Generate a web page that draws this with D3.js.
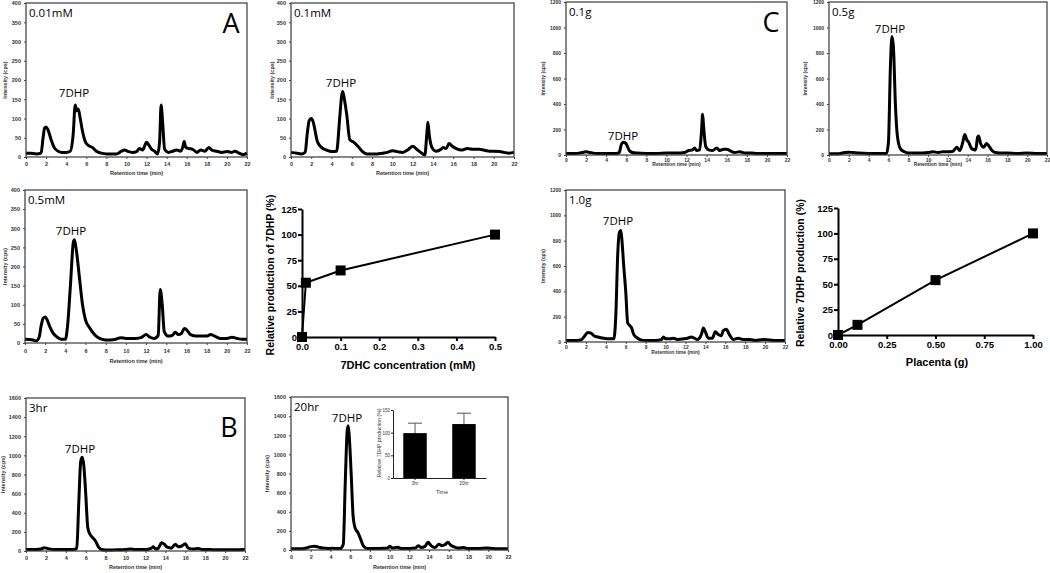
<!DOCTYPE html>
<html><head><meta charset="utf-8">
<script src="https://cdn.jsdelivr.net/npm/d3@7"></script>
<style>body{margin:0;background:#fff}svg{display:block}</style>
</head><body><svg id="c" width="1050" height="573"></svg>
<script>
// ---------- DATA ----------
const retentionTicks = [0,2,4,6,8,10,12,14,16,18,20,22];
const intensityTicksA = [0,50,100,150,200,250,300,350,400];
const intensityTicksB = [0,200,400,600,800,1000,1200,1400,1600];
const intensityTicksC = [0,200,400,600,800,1000,1200];

const trace001mM = [[0,10],[0.5,10],[1,8],[1.5,10],[1.7,50],[1.85,75],[2.0,78],[2.2,70],[2.5,45],[2.8,25],[3.2,15],[3.6,12],[4.0,12],[4.4,15],[4.7,60],[4.9,135],[5.05,120],[5.2,125],[5.4,100],[5.6,70],[5.9,40],[6.2,30],[6.6,25],[7.0,15],[7.5,10],[8,8],[9,8],[9.5,15],[9.8,18],[10.2,14],[10.6,12],[11,14],[11.3,22],[11.6,18],[12.0,38],[12.2,32],[12.5,20],[12.8,15],[13.1,8],[13.3,40],[13.45,135],[13.6,90],[13.8,20],[14.2,12],[14.6,15],[15,18],[15.4,15],[15.6,25],[15.75,40],[15.9,25],[16.2,22],[16.6,20],[17,12],[17.4,18],[17.8,15],[18.2,25],[18.5,18],[19,15],[19.5,12],[20,14],[20.5,12],[20.8,15],[21.2,10],[21.6,6],[22,10]];
const trace01mM = [[0,12],[0.6,10],[1,8],[1.4,12],[1.6,60],[1.8,95],[2.0,100],[2.2,90],[2.4,65],[2.6,40],[3,25],[3.5,18],[4,14],[4.5,15],[4.8,100],[5.0,160],[5.1,170],[5.3,145],[5.5,110],[5.8,45],[6.2,38],[6.6,28],[7,15],[7.5,8],[8,8],[8.5,8],[9,10],[9.5,12],[10,16],[10.5,14],[11,12],[11.5,18],[12,28],[12.4,20],[12.8,12],[13.2,5],[13.4,60],[13.5,90],[13.65,55],[13.9,25],[14.3,15],[14.8,20],[15.0,25],[15.3,22],[15.6,35],[15.9,28],[16.3,22],[16.8,18],[17.4,22],[18,20],[18.6,20],[19,18],[19.6,15],[20,15],[20.6,14],[21,12],[21.5,10],[22,12]];
const trace05mM = [[0,10],[0.8,8],[1.1,5],[1.4,15],[1.6,45],[1.8,65],[2.0,68],[2.2,60],[2.5,40],[2.8,25],[3.2,15],[3.6,10],[4.0,10],[4.2,40],[4.5,150],[4.8,265],[4.9,270],[5.1,240],[5.4,170],[5.7,100],[6.0,60],[6.4,40],[6.8,25],[7.2,15],[7.6,10],[8,8],[8.5,8],[9,10],[9.5,14],[10,12],[10.5,12],[11,12],[11.5,14],[12,22],[12.4,15],[12.8,12],[13.2,20],[13.4,140],[13.6,100],[13.8,30],[14.2,18],[14.6,20],[14.9,28],[15.2,22],[15.5,25],[15.8,38],[16.0,35],[16.4,22],[17,18],[17.5,18],[18,18],[18.4,22],[18.8,18],[19.4,12],[20,12],[20.5,15],[21,12],[21.5,10],[22,10]];
const trace3hr = [[0,15],[1,15],[1.5,20],[1.8,35],[2.2,25],[3,15],[4,15],[4.8,15],[5.1,30],[5.3,500],[5.5,940],[5.65,980],[5.8,900],[6.0,600],[6.2,250],[6.4,180],[6.7,140],[7.0,100],[7.3,40],[7.6,15],[8,10],[9,12],[10,15],[10.5,20],[11,15],[12,15],[12.6,30],[12.8,45],[13.0,20],[13.3,30],[13.6,85],[13.9,70],[14.2,40],[14.6,30],[15.0,70],[15.3,45],[15.6,50],[16.0,75],[16.3,30],[16.8,20],[17.3,25],[17.8,15],[18.5,15],[19,12],[20,12],[21,12],[22,15]];
const trace20hr = [[0,12],[1,12],[1.5,20],[2.0,35],[2.4,40],[2.8,30],[3.2,20],[3.8,15],[4.2,18],[4.6,15],[5.0,15],[5.3,60],[5.5,700],[5.7,1250],[5.8,1300],[5.9,1200],[6.1,800],[6.3,350],[6.5,230],[6.8,180],[7.0,130],[7.3,50],[7.6,20],[8,15],[9,15],[9.8,20],[10.0,40],[10.3,20],[10.8,30],[11.2,15],[12,15],[12.6,20],[12.9,45],[13.2,25],[13.6,40],[13.9,80],[14.2,45],[14.6,25],[15.0,60],[15.3,45],[15.6,55],[15.9,80],[16.2,50],[16.6,30],[17,20],[17.5,25],[18,15],[19,15],[19.8,20],[20.5,15],[21,12],[22,12]];
const trace01g = [[0,12],[1,12],[1.6,20],[2.0,25],[2.4,20],[3,12],[4,12],[5,12],[5.3,20],[5.5,80],[5.7,100],[5.9,95],[6.1,70],[6.3,35],[6.6,20],[7,15],[8,12],[9,12],[10,15],[11,15],[11.8,20],[12.2,35],[12.6,40],[12.8,55],[13.0,35],[13.3,40],[13.5,200],[13.6,320],[13.7,220],[13.9,70],[14.2,40],[14.6,35],[15.0,55],[15.3,35],[15.7,45],[16.0,45],[16.4,30],[16.8,20],[17.3,25],[17.8,15],[18.5,15],[19,12],[20,12],[21,12],[22,12]];
const trace05g = [[0,10],[1,10],[1.6,20],[2.0,22],[2.4,20],[3,15],[4,12],[5,12],[5.8,12],[6.0,100],[6.2,700],[6.35,930],[6.5,850],[6.7,400],[6.9,150],[7.2,50],[7.6,25],[8,15],[9,15],[10,20],[10.5,25],[11,20],[11.5,25],[12,25],[12.5,30],[12.9,60],[13.2,35],[13.5,100],[13.7,160],[13.9,120],[14.1,100],[14.4,50],[14.8,40],[15.0,140],[15.1,150],[15.3,90],[15.6,60],[15.9,90],[16.1,75],[16.4,40],[16.8,20],[17.5,15],[18,15],[19,12],[20,15],[21,12],[22,12]];
const trace10g = [[0,12],[1,12],[1.5,15],[1.8,40],[2.2,75],[2.5,70],[2.8,50],[3.2,40],[3.8,30],[4.4,25],[4.8,25],[5.0,200],[5.2,700],[5.35,860],[5.5,880],[5.6,820],[5.8,600],[6.0,400],[6.2,150],[6.4,130],[6.6,110],[6.8,60],[7.2,30],[7.6,15],[8,12],[9,12],[9.6,20],[9.8,40],[10.0,25],[10.5,25],[10.8,30],[11.2,20],[11.8,25],[12.2,30],[12.6,40],[12.9,30],[13.2,20],[13.6,60],[13.8,110],[14.0,80],[14.3,30],[14.7,30],[15.0,80],[15.3,60],[15.6,50],[15.8,90],[16.1,100],[16.4,60],[16.8,20],[17.3,30],[17.8,20],[18.5,20],[19,12],[19.8,20],[20.5,15],[21,12],[22,12]];

const concentration = [0, 0.01, 0.1, 0.5];
const relProdConc = [0, 53, 65, 100];
const concTicks = [0, 0.1, 0.2, 0.3, 0.4, 0.5];
const relTicks = [0, 25, 50, 75, 100, 125];
const placenta = [0, 0.1, 0.5, 1.0];
const relProdPlacenta = [0, 10, 54, 100];
const placentaTicks = [0, 0.25, 0.5, 0.75, 1.0];
const timeGroups = ["3hr", "20hr"];
const timeMeans = [99, 119];
const timeErrors = [22, 24];
const insetTicks = [0, 50, 100, 150];

// ---------- DRAW ----------
const svg = d3.select('#c');
svg.append('rect').attr('width',1050).attr('height',573).attr('fill','#fff');
const TICKFONT = '"Liberation Sans", Arial, sans-serif';
const LABFONT = '"Open Sans", "Noto Sans", sans-serif';

function chrom(p){
  const x = d3.scaleLinear().domain([0,22]).range([p.l,p.r]);
  const y = d3.scaleLinear().domain([0,p.ymax]).range([p.b,p.t]);
  const g = svg.append('g');
  const line = d3.line().x(d=>x(d[0])).y(d=>y(d[1])).curve(d3.curveMonotoneX);
  g.append('path').datum(p.data).attr('d',line).attr('fill','none')
    .attr('stroke','#000').attr('stroke-width',3).attr('stroke-linejoin','round');
  g.append('rect').attr('x',p.l).attr('y',p.t).attr('width',p.r-p.l).attr('height',p.b-p.t)
    .attr('fill','none').attr('stroke','#3a3a3a').attr('stroke-width',1.2);
  const ax = g.append('g').attr('transform',`translate(0,${p.b})`)
    .call(d3.axisBottom(x).tickValues(retentionTicks).tickFormat(d3.format('d')).tickSize(2).tickPadding(p.tp).tickSizeOuter(0));
  const ay = g.append('g').attr('transform',`translate(${p.l},0)`)
    .call(d3.axisLeft(y).tickValues(p.yticks).tickFormat(d3.format('d')).tickSize(2).tickPadding(p.yp||3).tickSizeOuter(0));
  [ax,ay].forEach(a=>{
    a.select('.domain').remove();
    a.selectAll('line').attr('stroke','#444');
    a.selectAll('text').attr('font-family',TICKFONT).attr('font-size',p.fs).attr('font-weight','bold').attr('fill','#333');
  });
  g.append('text').attr('x',(p.l+p.r)/2).attr('y',p.b+p.tg).attr('text-anchor','middle')
    .attr('font-family',TICKFONT).attr('font-size',p.fs).attr('font-weight','bold').attr('fill','#333')
    .text('Retention time (min)');
  g.append('text').attr('transform',`translate(${p.yl},${(p.t+p.b)/2}) rotate(-90)`).attr('text-anchor','middle')
    .attr('dy','0.35em')
    .attr('font-family',TICKFONT).attr('font-size',p.fs).attr('font-weight','bold').attr('fill','#333')
    .text('Intensity (cps)');
  g.append('text').attr('x',p.l+3).attr('y',p.t+14).attr('font-family',LABFONT).attr('font-size',11.5)
    .attr('fill','#000').text(p.label);
  g.append('text').attr('x',p.pk[0]).attr('y',p.pk[1]).attr('text-anchor','middle').attr('font-family',LABFONT)
    .attr('font-size',11.5).attr('fill','#000').text('7DHP');
  if(p.big){
    g.append('text').attr('x',p.big[0]).attr('y',p.big[1]).attr('text-anchor','middle').attr('font-family',LABFONT)
      .attr('font-size',27).attr('fill','#000').text(p.big[2]);
  }
}

chrom({l:26,r:247,t:3,b:157,ymax:400,yticks:intensityTicksA,data:trace001mM,label:'0.01mM',pk:[74,97],big:[231,33,'A'],tp:3,tg:18,fs:5.5,yl:5});
chrom({l:291,r:514,t:3,b:157,ymax:400,yticks:intensityTicksA,data:trace01mM,label:'0.1mM',pk:[341,87],tp:3,tg:18,fs:5.5,yl:272});
chrom({l:25,r:247,t:190,b:343,ymax:400,yticks:intensityTicksA,data:trace05mM,label:'0.5mM',pk:[71,235],tp:4,tg:20,fs:5.5,yl:5});
chrom({l:26,r:245,t:398,b:551,ymax:1600,yticks:intensityTicksB,data:trace3hr,label:'3hr',pk:[80,453],big:[229,437,'B'],tp:3,tg:18,fs:5.5,yl:3});
chrom({l:291,r:508,t:397,b:550,ymax:1600,yticks:intensityTicksB,data:trace20hr,label:'20hr',pk:[347,422],tp:3,tg:19,fs:5.5,yl:267});
chrom({l:566,r:787,t:2,b:155,ymax:1200,yticks:intensityTicksC,data:trace01g,label:'0.1g',pk:[623,140],big:[771,32,'C'],tp:1,tg:11,fs:5,yl:543});
chrom({l:829,r:1047,t:2,b:155,ymax:1200,yticks:intensityTicksC,data:trace05g,label:'0.5g',pk:[890,33],tp:1,tg:11,fs:5,yl:805});
chrom({l:566,r:785,t:190,b:342,ymax:1200,yticks:intensityTicksC,data:trace10g,label:'1.0g',pk:[618,225],tp:1,tg:12,fs:5,yl:543});

// ---------- XY line charts ----------
function xy(p){
  const x = d3.scaleLinear().domain(p.xd).range([p.l,p.r]);
  const y = d3.scaleLinear().domain([0,125]).range([p.b,p.t]);
  const g = svg.append('g');
  const pts = p.xs.map((v,i)=>[v,p.ys[i]]);
  g.append('path').datum(pts).attr('d',d3.line().x(d=>x(d[0])).y(d=>y(d[1])))
    .attr('fill','none').attr('stroke','#000').attr('stroke-width',2);
  const ax = g.append('g').attr('transform',`translate(0,${p.b})`)
    .call(d3.axisBottom(x).tickValues(p.xt).tickFormat(d3.format(p.fmt)).tickSize(4).tickPadding(2).tickSizeOuter(0));
  const ay = g.append('g').attr('transform',`translate(${p.l},0)`)
    .call(d3.axisLeft(y).tickValues(relTicks).tickSize(4).tickPadding(1).tickSizeOuter(0));
  [ax,ay].forEach(a=>{
    a.select('.domain').attr('stroke','#000').attr('stroke-width',2);
    a.selectAll('line').attr('stroke','#000').attr('stroke-width',2);
    a.selectAll('text').attr('font-family',TICKFONT).attr('font-size',9.5).attr('font-weight','bold').attr('fill','#000');
  });
  g.selectAll('rect.pt').data(pts).join('rect').attr('class','pt')
    .attr('x',d=>x(d[0])-5).attr('y',d=>y(d[1])-5).attr('width',10).attr('height',10).attr('fill','#000');
  g.append('text').attr('x',p.xtx).attr('y',p.xty).attr('text-anchor','middle')
    .attr('font-family',TICKFONT).attr('font-size',11).attr('font-weight','bold').text(p.xtitle);
  g.append('text').attr('transform',`translate(${p.ytx},${p.yty}) rotate(-90)`).attr('text-anchor','middle')
    .attr('font-family',TICKFONT).attr('font-size',10.5).attr('font-weight','bold').text(p.ytitle);
}
xy({l:302,r:495,t:209,b:337,xd:[0,0.5],xs:concentration,ys:relProdConc,xt:concTicks,fmt:'.1f',
    xtitle:'7DHC concentration (mM)',ytitle:'Relative production of 7DHP (%)',xtx:408,xty:369,ytx:274,yty:275});
xy({l:838,r:1033,t:208,b:335,xd:[0,1],xs:placenta,ys:relProdPlacenta,xt:placentaTicks,fmt:'.2f',
    xtitle:'Placenta (g)',ytitle:'Relative 7DHP production (%)',xtx:937,xty:366,ytx:804,yty:273});

// ---------- Inset bar chart ----------
(function(){
  const g = svg.append('g');
  const x = d3.scaleBand().domain(timeGroups).range([393,486]).paddingInner(0.52).paddingOuter(0.21);
  const y = d3.scaleLinear().domain([0,150]).range([478,410]);
  const bars = timeGroups.map((k,i)=>({k,m:timeMeans[i],e:timeErrors[i]}));
  g.selectAll('line.err').data(bars).join('line').attr('x1',d=>x(d.k)+x.bandwidth()/2).attr('x2',d=>x(d.k)+x.bandwidth()/2)
    .attr('y1',d=>y(d.m)).attr('y2',d=>y(d.m+d.e)).attr('stroke','#555').attr('stroke-width',1);
  g.selectAll('line.cap').data(bars).join('line').attr('x1',d=>x(d.k)+x.bandwidth()/2-7).attr('x2',d=>x(d.k)+x.bandwidth()/2+7)
    .attr('y1',d=>y(d.m+d.e)).attr('y2',d=>y(d.m+d.e)).attr('stroke','#555').attr('stroke-width',1);
  g.selectAll('rect.bar').data(bars).join('rect').attr('x',d=>x(d.k)).attr('width',x.bandwidth())
    .attr('y',d=>y(d.m)).attr('height',d=>y(0)-y(d.m)).attr('fill','#000');
  const ax = g.append('g').attr('transform','translate(0,478)').call(d3.axisBottom(x).tickSize(2).tickPadding(2).tickSizeOuter(0));
  const ay = g.append('g').attr('transform','translate(393,0)').call(d3.axisLeft(y).tickValues(insetTicks).tickSize(2).tickPadding(1).tickSizeOuter(0));
  [ax,ay].forEach(a=>{
    a.select('.domain').attr('stroke','#222').attr('stroke-width',1);
    a.selectAll('line').attr('stroke','#222');
    a.selectAll('text').attr('font-family',TICKFONT).attr('font-size',4.5).attr('fill','#333');
  });
  g.append('text').attr('x',442).attr('y',494).attr('text-anchor','middle').attr('font-family',TICKFONT)
    .attr('font-size',5.5).attr('fill','#333').text('Time');
  g.append('text').attr('transform','translate(381,443) rotate(-90)').attr('text-anchor','middle').attr('font-family',TICKFONT)
    .attr('font-size',5.2).attr('fill','#333').text('Relative 7DHP production (%)');
})();
</script></body></html>
